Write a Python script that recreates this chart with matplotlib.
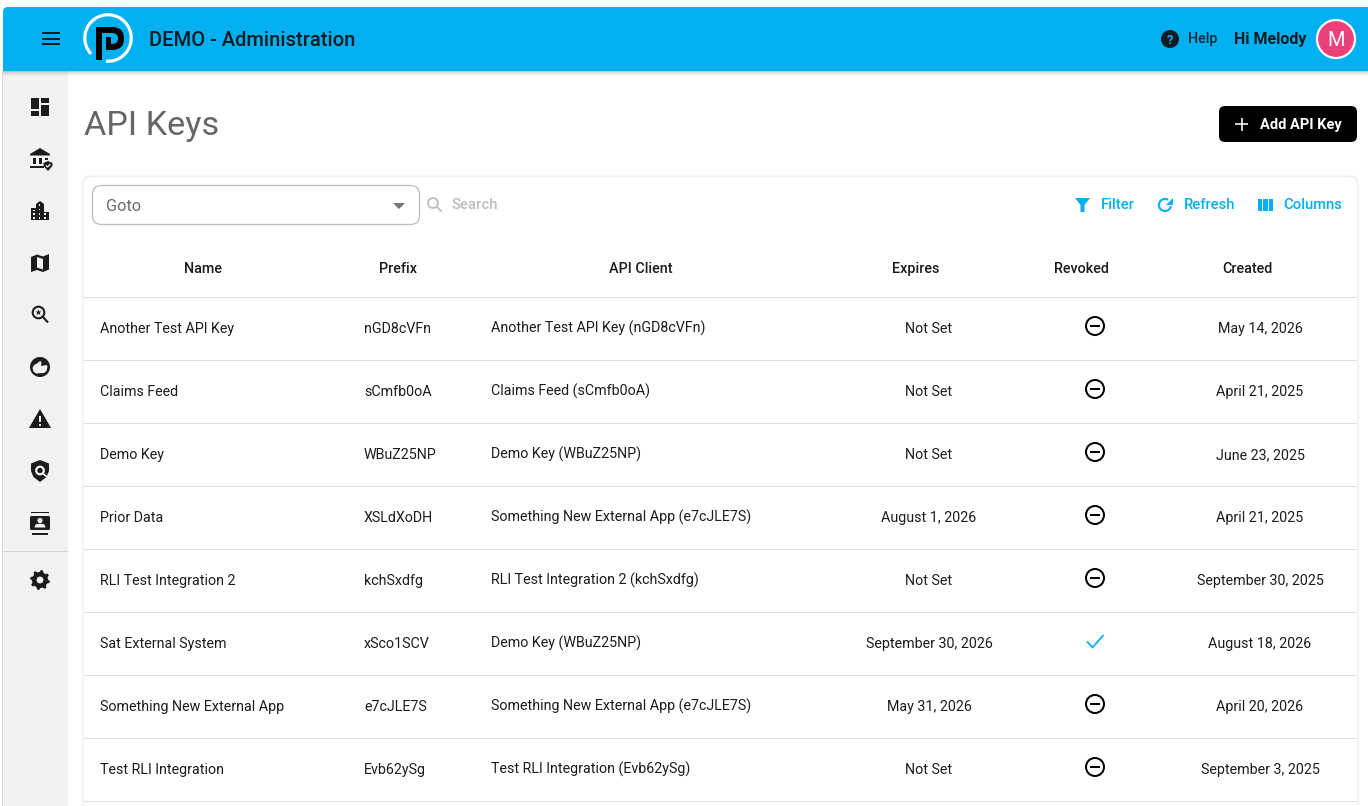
import numpy as np
import matplotlib
matplotlib.use("Agg")
import matplotlib.pyplot as plt
from matplotlib.patches import Rectangle, Circle, Polygon, FancyBboxPatch, Arc, PathPatch
from matplotlib.path import Path

plt.rcParams['font.family'] = ['Roboto', 'DejaVu Sans']

# ---- table content
columns = ["Name", "Prefix", "API Client", "Expires", "Revoked", "Created"]
names = ["Another Test API Key", "Claims Feed", "Demo Key", "Prior Data",
         "RLI Test Integration 2", "Sat External System",
         "Something New External App", "Test RLI Integration"]
prefixes = ["nGD8cVFn", "sCmfb0oA", "WBuZ25NP", "XSLdXoDH",
            "kchSxdfg", "xSco1SCV", "e7cJLE7S", "Evb62ySg"]
clients = ["Another Test API Key (nGD8cVFn)", "Claims Feed (sCmfb0oA)",
           "Demo Key (WBuZ25NP)", "Something New External App (e7cJLE7S)",
           "RLI Test Integration 2 (kchSxdfg)", "Demo Key (WBuZ25NP)",
           "Something New External App (e7cJLE7S)", "Test RLI Integration (Evb62ySg)"]
expires = ["Not Set", "Not Set", "Not Set", "August 1, 2026", "Not Set",
           "September 30, 2026", "May 31, 2026", "Not Set"]
revoked = [False, False, False, False, False, True, False, False]
created = ["May 14, 2026", "April 21, 2025", "June 23, 2025", "April 21, 2025",
           "September 30, 2025", "August 18, 2026", "April 20, 2026", "September 3, 2025"]

BLUE = "#00B0F0"
INK = "#1c1c1c"
W, H = 1368, 806
fig = plt.figure(figsize=(W / 100, H / 100), dpi=100, facecolor="white")
ax = fig.add_axes([0, 0, 1, 1])
ax.set_xlim(0, W)
ax.set_ylim(H, 0)
ax.axis("off")


def fs(px):
    return px * 0.72


def txt(x, base, s, size=14.25, color=INK, ha="left", weight="normal", z=10):
    ax.text(x, base, s, fontsize=fs(size), color=color, ha=ha, va="baseline",
            fontweight=weight, zorder=z)


def rect(x0, y0, x1, y1, color, z=5):
    ax.add_patch(Rectangle((x0, y0), x1 - x0, y1 - y0, fc=color, ec="none", zorder=z))


def rrect(x0, y0, x1, y1, r, fc, ec="none", lw=0, z=5):
    ax.add_patch(FancyBboxPatch((x0 + r, y0 + r), x1 - x0 - 2 * r, y1 - y0 - 2 * r,
                                boxstyle=f"round,pad={r},rounding_size={r}",
                                fc=fc, ec=ec, lw=lw, zorder=z))


def poly(pts, color, z=6):
    ax.add_patch(Polygon(pts, closed=True, fc=color, ec="none", zorder=z))


def circ(x, y, r, fc, ec="none", lw=0, z=6):
    ax.add_patch(Circle((x, y), r, fc=fc, ec=ec, lw=lw, zorder=z))


def line(xs, ys, color, lw, z=6, cap="butt"):
    ax.plot(xs, ys, color=color, lw=lw * 0.72, solid_capstyle=cap, zorder=z)


# ---- page frame
rect(3, 71, 68, H, "#F2F2F2", z=1)
rect(2, 71, 3, H, "#DADADA", z=1)
rect(3, 551, 68, 552, "#D4D4D4", z=2)

# header bar with soft shadow
for i, a in enumerate([0.22, 0.13, 0.08, 0.05, 0.03]):
    rect(3, 71 + i, W, 72 + i, (0, 0, 0, a), z=3)
rrect(3, 7, W + 12, 71, 5, BLUE, z=4)
rect(3, 40, W, 71, BLUE, z=4)
rect(8, 6.5, W, 7.2, "#C9D6DC", z=4)

# hamburger
for y in (33, 38.5, 44):
    line([42, 60], [y, y], "#0d1b22", 2)

# logo
ax.add_patch(Arc((108, 38), 46.5, 46.5, theta1=137, theta2=455, color="white",
                 lw=3.2 * 0.72, zorder=6))
rect(96, 27, 102, 60, "black", z=7)
outer = Path([(96, 27), (112, 27), (124, 27), (124, 38.5), (124, 50), (112, 50), (106, 50),
              (106, 44), (112, 44), (118, 44), (118, 38.5), (118, 33), (112, 33), (96, 33), (96, 27)],
             [Path.MOVETO, Path.LINETO, Path.CURVE3, Path.CURVE3, Path.CURVE3, Path.CURVE3, Path.LINETO,
              Path.LINETO, Path.LINETO, Path.CURVE3, Path.CURVE3, Path.CURVE3, Path.CURVE3, Path.LINETO,
              Path.CLOSEPOLY])
ax.add_patch(PathPatch(outer, fc="black", ec="none", zorder=7))
rect(106, 37, 111, 50, "black", z=7)

txt(149, 45.5, "DEMO - Administration", 20.2, "#0d1b22", weight=500)

# right of header
circ(1170, 39, 9, "#0d1b22")
txt(1170, 43.5, "?", 13, BLUE, ha="center", weight="bold", z=8)
txt(1188, 43.5, "Help", 14.4, "#0d2a38", weight=500)
txt(1234, 44, "Hi Melody", 16, "#0d1b22", weight="bold")
circ(1336, 39, 19, "#EC407A", ec="white", lw=1.6)
txt(1336, 46, "M", 20, "white", ha="center", z=8)

# ---- sidebar icons
IC = "#1c1c1c"
BG = "#F2F2F2"
# dashboard
rect(31, 98, 39, 109, IC); rect(31, 111, 39, 116, IC)
rect(41, 98, 49, 103, IC); rect(41, 105, 49, 116, IC)
# bank + shield
poly([(40, 148), (30, 154), (30, 155.5), (50, 155.5), (50, 154)], IC)
rect(33, 158, 35.5, 164, IC); rect(39, 158, 41.5, 164, IC); rect(45, 158, 47.5, 160, IC)
rect(30, 166, 44, 168, IC)
poly([(48, 161), (52.5, 163), (52.5, 166), (48, 171), (43.5, 166), (43.5, 163)], IC)
line([46, 47.5, 50.3], [165.5, 167, 164], "white", 1.2, z=7)
# buildings
poly([(31, 208), (36, 208), (36, 204), (40, 201), (44, 204), (44, 212), (49, 212), (49, 220), (31, 220)], IC)
for x in (34, 39.5, 45):
    for y in (214, 218):
        rect(x - 0.9, y - 0.9, x + 0.9, y + 0.9, BG, z=7)
for (x, y) in [(39.5, 205), (39.5, 209.5), (34, 210.5)]:
    rect(x - 0.9, y - 0.9, x + 0.9, y + 0.9, BG, z=7)
# map
poly([(31, 257), (37, 254.5), (43, 256.5), (49, 254), (49, 269.5), (43, 272), (37, 270), (31, 272)], IC)
poly([(37, 257), (43, 259), (43, 269.5), (37, 267.5)], BG, z=7)
# star search
circ(38.5, 312.5, 5.8, "none", ec=IC, lw=1.5)
line([43, 48], [317, 322.5], IC, 2.1)
star = [(38.5 + (3.2 if i % 2 == 0 else 1.3) * np.sin(i * np.pi / 5),
         312.5 - (3.2 if i % 2 == 0 else 1.3) * np.cos(i * np.pi / 5)) for i in range(10)]
poly(star, IC)
# thumb in disc
circ(40, 367, 10, IC)
poly([(32.5, 368), (34, 365), (37, 363.5), (40, 361), (41.5, 362), (41, 366), (46.5, 365),
      (47.5, 366.5), (46.5, 371), (44, 373), (36, 373.5), (33.5, 371.5)], BG, z=7)
# warning
poly([(40, 409), (51, 428), (29, 428)], IC)
rect(39, 416, 41, 422, BG, z=7); rect(39, 423.5, 41, 425.5, BG, z=7)
# shield search
poly([(40, 460), (49, 463.5), (49, 471), (46.5, 477), (40, 482), (33.5, 477), (31, 471), (31, 463.5)], IC)
circ(40, 470.5, 3.8, "none", ec=BG, lw=1.6, z=7)
line([43, 47], [473.5, 477], BG, 1.7, z=7)
# contacts
rect(31, 511.5, 49, 513, IC); rect(32, 533, 48, 534.5, IC)
rrect(30, 516, 50, 530, 1.5, IC, z=6)
circ(40, 520.5, 2.6, BG, z=7)
poly([(34.5, 527.5), (35.5, 524.5), (38, 523.8), (42, 523.8), (44.5, 524.5), (45.5, 527.5)], BG, z=7)
# gear
n = 8
ang = np.linspace(0, 2 * np.pi, n * 4, endpoint=False) + np.pi / n / 2
rad = np.array([10, 10, 7.6, 7.6] * n)
poly(list(zip(40 + rad * np.cos(ang - np.pi / n / 4), 580 + rad * np.sin(ang - np.pi / n / 4))), IC)
circ(40, 580, 7.8, IC)
circ(40, 580, 3.4, BG, z=7)

# ---- title & button
txt(84, 135.5, "API Keys", 34.3, "#666666")
rrect(1219, 106, 1357, 142, 6, "black")
line([1235, 1248], [124, 124], "white", 1.6)
line([1241.5, 1241.5], [117.5, 130.5], "white", 1.6)
txt(1259.5, 128.5, "Add API Key", 14.6, "white", weight=700)

# ---- card
for i, a in enumerate([0.012, 0.018, 0.026, 0.036]):
    rrect(84 - 3 + i, 177 - 3 + i, 1357 + 3 - i, H + 30, 8, (0, 0, 0, a), z=1.5)
rrect(84, 177, 1357, H + 30, 8, "white", z=2)

# goto select
rrect(92.5, 185.5, 419.5, 224.5, 9, "white", ec="#BDBDBD", lw=0.9, z=3)
txt(106, 211, "Goto", 16.3, "#6b6b6b")
poly([(393, 203), (405, 203), (399, 209)], "#757575")

# search
circ(433, 203, 5, "none", ec="#BDBDBD", lw=1.3)
line([437, 441.5], [207, 211.5], "#BDBDBD", 1.8)
txt(452, 209, "Search", 15, "#BDBDBD", weight=500)

# toolbar actions
poly([(1075, 198), (1090, 198), (1084.5, 205), (1084.5, 212), (1080.5, 212), (1080.5, 205)], BLUE)
txt(1101, 209, "Filter", 14.7, BLUE, weight=500)
ax.add_patch(Arc((1165, 205), 12, 12, theta1=10, theta2=300, color=BLUE, lw=1.5, zorder=6))
poly([(1172.5, 198), (1172.5, 204.5), (1166, 204.5)], BLUE)
txt(1183.5, 209, "Refresh", 14.7, BLUE, weight=500)
for x0 in (1257.5, 1263, 1268.5):
    rect(x0, 199, x0 + 4.5, 211, BLUE)
txt(1283, 209, "Columns", 14.9, BLUE, weight=500)

# ---- table
header_x = [203, 398, 641, 916, 1081, 1247]
for cx, label in zip(header_x, columns):
    txt(cx, 273, label, 14.4, INK, ha="center", weight=500)
rect(84, 297, 1357, 298, "#E0E0E0", z=3)

for i in range(len(names)):
    y = 328 + 63 * i
    txt(100, y + 5, names[i])
    txt(364, y + 5, prefixes[i])
    txt(491, y + 5, clients[i])
    txt(929, y + 5, expires[i], ha="center")
    txt(1260, y + 5, created[i], ha="center")
    if revoked[i]:
        line([1087, 1092.5, 1103.5], [y - 1.5, y + 4.5, y - 8], BLUE, 1.8)
    else:
        circ(1095, y - 2, 9, "white", ec="black", lw=1.45)
        rect(1090, y - 3, 1100, y - 1, "black", z=7)
    rect(84, y + 32, 1357, y + 33, "#E0E0E0", z=3)

fig.savefig("out.png", dpi=100, facecolor="white")
